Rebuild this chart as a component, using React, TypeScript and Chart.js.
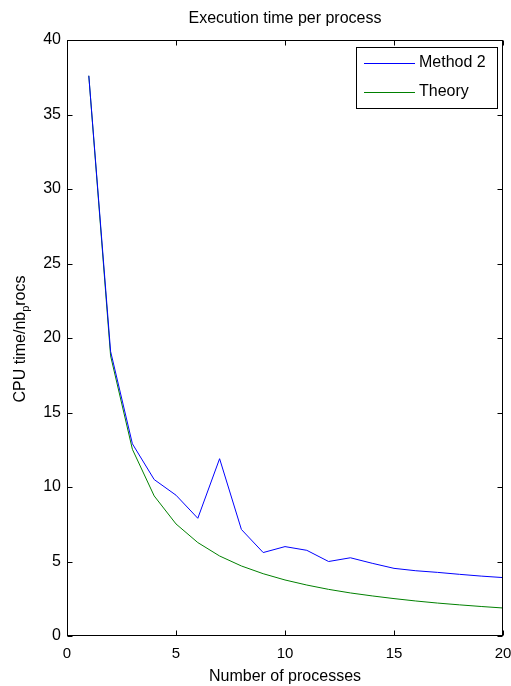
import React, { useEffect, useRef } from "react";
import { Chart, registerables } from "chart.js";

Chart.register(...registerables);

const procs = [1, 2, 3, 4, 5, 6, 7, 8, 9, 10, 11, 12, 13, 14, 15, 16, 17, 18, 19, 20];
const method2 = [37.6, 19.1, 12.9, 10.5, 9.45, 7.9, 11.9, 7.15, 5.6, 6.0, 5.75, 5.0, 5.25, 4.88, 4.54, 4.38, 4.27, 4.14, 4.02, 3.92];
const theory = [37.6, 18.8, 12.53, 9.4, 7.52, 6.27, 5.37, 4.7, 4.18, 3.76, 3.42, 3.13, 2.89, 2.69, 2.51, 2.35, 2.21, 2.09, 1.98, 1.88];
const xTicks = [0, 5, 10, 15, 20];
const yTicks = [0, 5, 10, 15, 20, 25, 30, 35, 40];
const seriesNames = ["Method 2", "Theory"];
const seriesColors = ["#0000ff", "#008000"];
const titleText = "Execution time per process";
const xLabel = "Number of processes";

const FONT = "'Liberation Sans', Arial, sans-serif";

const decor = {
  id: "decor",
  afterDraw(chart: any) {
    const ctx = chart.ctx as CanvasRenderingContext2D;
    const a = chart.chartArea;
    const xs = chart.scales.x;
    const ys = chart.scales.y;
    ctx.save();
    ctx.strokeStyle = "#000";
    ctx.lineWidth = 1;
    const L = Math.round(a.left) + 0.5;
    const R = Math.round(a.right) - 0.5;
    const T = Math.round(a.top) + 0.5;
    const B = Math.round(a.bottom) - 0.5;
    ctx.strokeRect(L, T, R - L, B - T);
    const tl = 5;
    ctx.beginPath();
    xTicks.forEach((v) => {
      const px = Math.round(xs.getPixelForValue(v)) + 0.5;
      ctx.moveTo(px, B);
      ctx.lineTo(px, B - tl);
      ctx.moveTo(px, T);
      ctx.lineTo(px, T + tl);
    });
    yTicks.forEach((v) => {
      const py = Math.round(ys.getPixelForValue(v)) + 0.5;
      ctx.moveTo(L, py);
      ctx.lineTo(L + tl, py);
      ctx.moveTo(R, py);
      ctx.lineTo(R - tl, py);
    });
    ctx.stroke();

    const cx = (a.left + a.right) / 2;
    ctx.fillStyle = "#000";
    ctx.font = `16px ${FONT}`;
    ctx.textAlign = "center";
    ctx.textBaseline = "middle";
    ctx.fillText(titleText, cx, 19);
    ctx.fillText(xLabel, cx, 677);

    ctx.save();
    ctx.translate(19, (a.top + a.bottom) / 2 + 1);
    ctx.rotate(-Math.PI / 2);
    const p1 = "CPU time/nb";
    const p2 = "p";
    const p3 = "rocs";
    ctx.font = `16px ${FONT}`;
    const w1 = ctx.measureText(p1).width;
    const w3 = ctx.measureText(p3).width;
    ctx.font = `11px ${FONT}`;
    const w2 = ctx.measureText(p2).width;
    const total = w1 + w2 + w3;
    let x0 = -total / 2;
    ctx.textAlign = "left";
    ctx.textBaseline = "alphabetic";
    ctx.font = `16px ${FONT}`;
    ctx.fillText(p1, x0, 6);
    x0 += w1;
    ctx.font = `11px ${FONT}`;
    ctx.fillText(p2, x0, 10);
    x0 += w2;
    ctx.font = `16px ${FONT}`;
    ctx.fillText(p3, x0, 6);
    ctx.restore();

    const lx = 356, ly = 47, lw = 141, lh = 61;
    ctx.fillStyle = "#fff";
    ctx.fillRect(lx, ly, lw, lh);
    ctx.strokeStyle = "#000";
    ctx.strokeRect(lx + 0.5, ly + 0.5, lw, lh);
    const rows = [63, 92];
    ctx.font = `16px ${FONT}`;
    ctx.textAlign = "left";
    ctx.textBaseline = "middle";
    seriesNames.forEach((n, i) => {
      ctx.strokeStyle = seriesColors[i];
      ctx.beginPath();
      ctx.moveTo(364, rows[i] + 0.5);
      ctx.lineTo(415, rows[i] + 0.5);
      ctx.stroke();
      ctx.fillStyle = "#000";
      ctx.fillText(n, 419, rows[i]);
    });
    ctx.restore();
  },
};

export default function App() {
  const ref = useRef<HTMLCanvasElement>(null);
  useEffect(() => {
    if (!ref.current) return;
    const chart = new Chart(ref.current, {
      type: "line",
      data: {
        datasets: [
          {
            label: seriesNames[0],
            data: procs.map((p, i) => ({ x: p, y: method2[i] })),
            borderColor: seriesColors[0],
            borderWidth: 1,
            pointRadius: 0,
            fill: false,
            tension: 0,
          },
          {
            label: seriesNames[1],
            data: procs.map((p, i) => ({ x: p, y: theory[i] })),
            borderColor: seriesColors[1],
            borderWidth: 1,
            pointRadius: 0,
            fill: false,
            tension: 0,
          },
        ],
      },
      options: {
        responsive: false,
        animation: false,
        devicePixelRatio: 1,
        layout: { padding: { top: 40, right: 8, left: 0, bottom: 0 } },
        plugins: {
          legend: { display: false },
          title: { display: false },
          tooltip: { enabled: false },
        },
        scales: {
          x: {
            type: "linear",
            min: 0,
            max: 20,
            afterFit: (s: any) => {
              s.height = 50;
              s.paddingLeft = 0;
              s.paddingRight = 0;
            },
            afterBuildTicks: (s: any) => {
              s.ticks = xTicks.map((v) => ({ value: v }));
            },
            grid: { display: false, drawTicks: false },
            border: { display: false },
            ticks: {
              color: "#000",
              font: { family: FONT, size: 15 },
              padding: 9,
              maxRotation: 0,
            },
          },
          y: {
            type: "linear",
            min: 0,
            max: 40,
            afterFit: (s: any) => {
              s.width = 67;
              s.paddingTop = 0;
              s.paddingBottom = 0;
            },
            afterBuildTicks: (s: any) => {
              s.ticks = yTicks.map((v) => ({ value: v }));
            },
            grid: { display: false, drawTicks: false },
            border: { display: false },
            ticks: {
              color: "#000",
              font: { family: FONT, size: 16 },
              padding: 6,
            },
          },
        },
      },
      plugins: [decor],
    });
    return () => chart.destroy();
  }, []);
  return (
    <div style={{ position: "absolute", left: 0, top: 0, width: 511, height: 686, background: "#fff" }}>
      <canvas ref={ref} width={511} height={686} style={{ display: "block" }} />
    </div>
  );
}
